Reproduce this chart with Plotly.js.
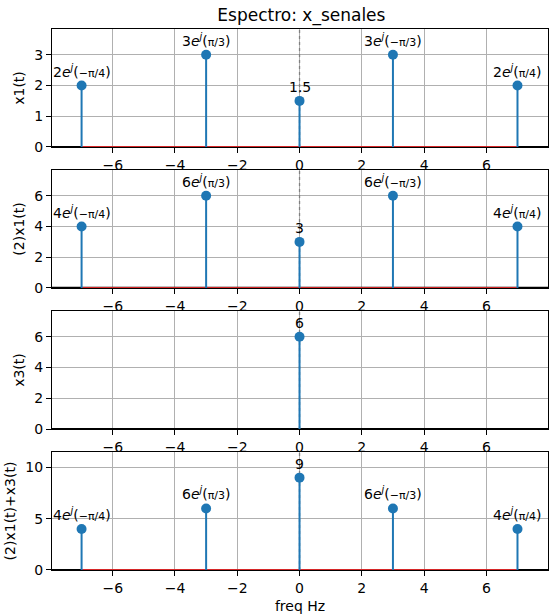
<!DOCTYPE html>
<html><head><meta charset="utf-8">
<script src="https://cdn.plot.ly/plotly-3.0.1.min.js"></script>
<style>html,body{margin:0;padding:0;background:#fff}#c{width:553px;height:616px}</style>
</head><body><div id="c"></div>
<script>
// ---- data ----
var freqs1 = [-7, -3, 0, 3, 7];
var mag1 = [2, 3, 1.5, 3, 2];
var phase1 = ["−π/4", "π/3", "", "−π/3", "π/4"];
var freqs2 = [-7, -3, 0, 3, 7];
var mag2 = [4, 6, 3, 6, 4];
var phase2 = ["−π/4", "π/3", "", "−π/3", "π/4"];
var freqs3 = [0];
var mag3 = [6];
var phase3 = [""];
var freqs4 = [-7, -3, 0, 3, 7];
var mag4 = [4, 6, 9, 6, 4];
var phase4 = ["−π/4", "π/3", "", "−π/3", "π/4"];
var yTitles = ["x1(t)", "(2)x1(t)", "x3(t)", "(2)x1(t)+x3(t)"];
var yMax = [3.84, 7.68, 7.68, 11.5];
var yTicks = [[0,1,2,3],[0,2,4,6],[0,2,4,6],[0,5,10]];
var xTicks = [-6,-4,-2,0,2,4,6];
var xRange = [-7.95, 7.98];

var series = [
  {f: freqs1, m: mag1, p: phase1},
  {f: freqs2, m: mag2, p: phase2},
  {f: freqs3, m: mag3, p: phase3},
  {f: freqs4, m: mag4, p: phase4}
];
var domains = [[0.7819,1],[0.5213,0.7394],[0.2606,0.4787],[0,0.2181]];
var FONT = "DejaVu Sans, sans-serif";
var blue = "#1f77b4";

function label(m, p){
  if (!p) return String(m);
  return String(m) + "<i>e</i><sup><i>j</i></sup>(<span style='font-size:11px'>" + p + "</span>)";
}

var traces = [], annotations = [];
var layout = {
  width: 553, height: 616,
  margin: {l: 52, r: 5, t: 29, b: 46},
  paper_bgcolor: "#fff", plot_bgcolor: "#fff",
  showlegend: false,
  font: {family: FONT, size: 14, color: "#000"},
  title: {text: "Espectro: x_senales", font: {family: FONT, size: 17, color: "#000"}, x: 0.545, xanchor: "center", y: 0.975, yanchor: "middle"}
};

series.forEach(function(s, i){
  var n = i + 1;
  var xa = n === 1 ? "x" : "x" + n, ya = n === 1 ? "y" : "y" + n;
  var xs = [], ys = [];
  s.f.forEach(function(f, k){ xs.push(f, f, null); ys.push(0, s.m[k], null); });
  var fmin = Math.min.apply(null, s.f), fmax = Math.max.apply(null, s.f);
  traces.push({x: xRange, y: [0, 0], xaxis: xa, yaxis: ya, mode: "lines", line: {color: "#000", width: 2.2}, hoverinfo: "skip", cliponaxis: false});
  traces.push({x: [0, 0], y: [0, yMax[i]], xaxis: xa, yaxis: ya, mode: "lines", line: {color: "#808080", width: 1.3, dash: "dot"}, hoverinfo: "skip"});
  traces.push({x: [fmin, fmax], y: [0, 0], xaxis: xa, yaxis: ya, mode: "lines", line: {color: "#d62728", width: 2}, hoverinfo: "skip"});
  traces.push({x: xs, y: ys, xaxis: xa, yaxis: ya, mode: "lines", line: {color: blue, width: 2}, hoverinfo: "skip"});
  traces.push({x: s.f, y: s.m, xaxis: xa, yaxis: ya, mode: "markers", marker: {color: blue, size: 10}, hoverinfo: "skip"});
  s.f.forEach(function(f, k){
    annotations.push({x: f, y: s.m[k], xref: xa, yref: ya, text: label(s.m[k], s.p[k]), showarrow: false,
      yanchor: "bottom", xanchor: "center", yshift: 4, font: {family: FONT, size: 14, color: "#000"}});
  });

  var axName = n === 1 ? "xaxis" : "xaxis" + n;
  var ayName = n === 1 ? "yaxis" : "yaxis" + n;
  layout[axName] = {
    range: xRange, anchor: ya, domain: [0, 1],
    tickmode: "array", tickvals: xTicks, ticktext: xTicks.map(function(v){ return v < 0 ? "−" + (-v) : String(v); }),
    showgrid: true, gridcolor: "#b0b0b0", gridwidth: 1, zeroline: false,
    showline: true, linecolor: "#000", linewidth: 1, mirror: true,
    ticks: "outside", ticklen: 5, tickcolor: "#000", tickfont: {family: FONT, size: 14, color: "#000"}
  };
  if (n === 4) layout[axName].title = {text: "freq Hz", font: {family: FONT, size: 14, color: "#000"}, standoff: 6};
  layout[ayName] = {
    range: [0, yMax[i]], anchor: xa, domain: domains[i],
    tickmode: "array", tickvals: yTicks[i],
    showgrid: true, gridcolor: "#b0b0b0", gridwidth: 1, zeroline: false,
    showline: true, linecolor: "#000", linewidth: 1, mirror: true,
    ticks: "outside", ticklen: 5, tickcolor: "#000", tickfont: {family: FONT, size: 14, color: "#000"},
    title: {text: yTitles[i], font: {family: FONT, size: 14, color: "#000"}, standoff: 6}
  };
});
layout.annotations = annotations;
Plotly.newPlot("c", traces, layout, {staticPlot: true, displayModeBar: false});
</script></body></html>
